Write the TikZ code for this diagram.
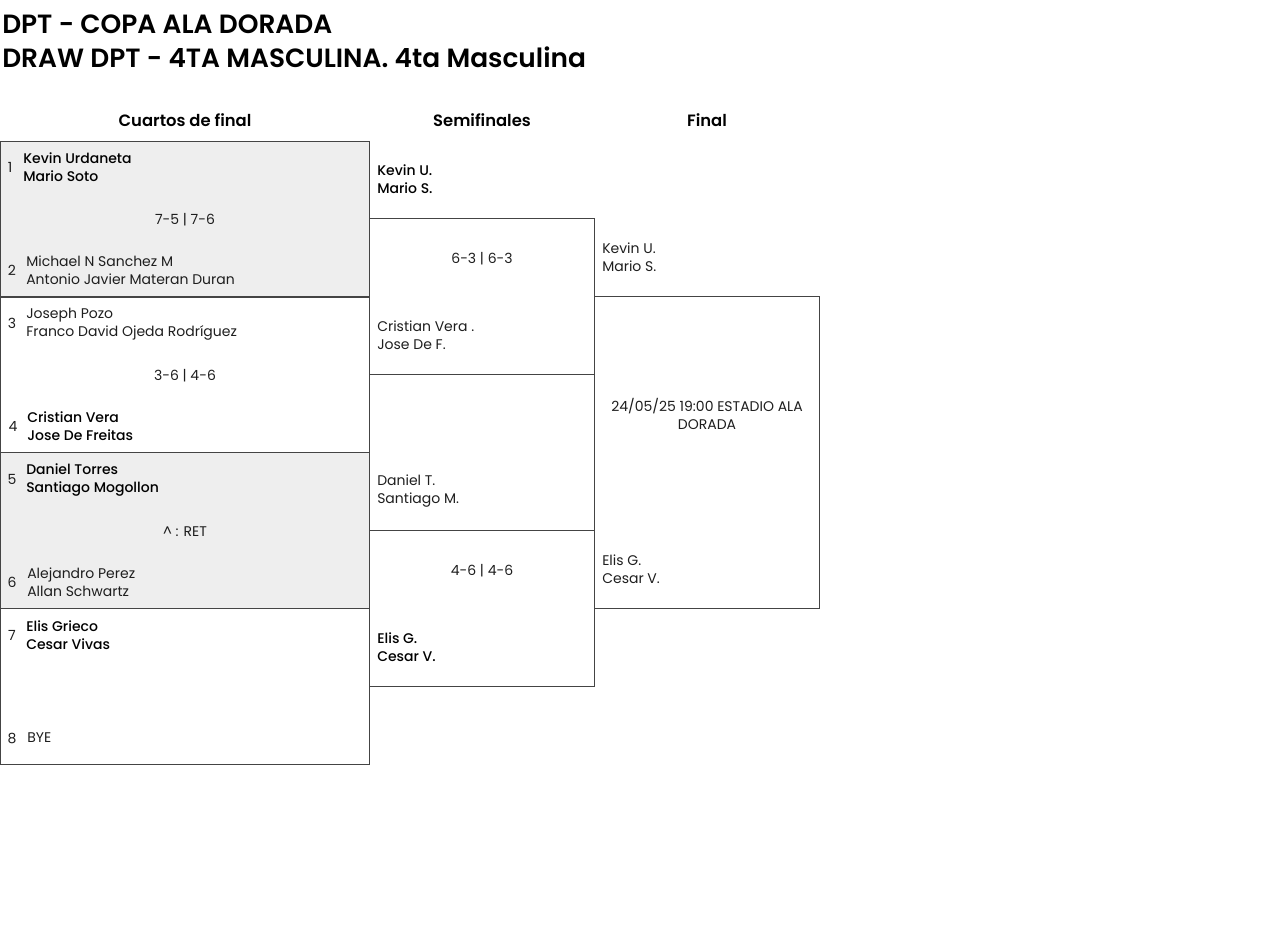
\documentclass[tikz,border=0pt]{standalone}
\usepackage{fontspec}
\setmainfont{Poppins}[BoldFont={Poppins Medium}]
\newfontfamily\headfont{Poppins SemiBold}
\definecolor{cellgray}{HTML}{EEEEEE}
\definecolor{rulegray}{HTML}{444444}
\definecolor{ink}{HTML}{1E1E1E}
\tikzset{box/.style = {draw=rulegray,line width=0.75pt}}
\tikzset{team/.style = {anchor=west,align=left,inner sep=0pt,text=ink,font=\fontsize{10.5}{13.5}\selectfont}}
\tikzset{winner/.style = {team,font=\fontsize{10.5}{13.5}\selectfont\bfseries,text=black}}
\tikzset{seed/.style = {inner sep=0pt,text=ink,font=\fontsize{10.5}{13.5}\selectfont}}
\tikzset{score/.style = {inner sep=0pt,align=center,text=ink,font=\fontsize{10.5}{13.5}\selectfont}}
\tikzset{roundhead/.style = {inner sep=0pt,text=black,font=\fontsize{12.3}{15}\headfont}}
\tikzset{titletext/.style = {anchor=west,inner sep=0pt,text=black,font=\fontsize{19.8}{24}\headfont}}

\begin{document}
\begin{tikzpicture}[x=0.75pt,y=-0.75pt]
          \useasboundingbox (0,0) rectangle (1280,949);

          \node[titletext] (t1) at (2,24) {DPT - COPA ALA DORADA};
          \node[titletext] (t2) at (2,57) {DRAW DPT - 4TA MASCULINA. 4ta Masculina};

          \node[roundhead] (r1) at (185,120) {Cuartos de final};
          \node[roundhead] (r2) at (482,120) {Semifinales};
          \node[roundhead] (r3) at (707,120) {Final};

          % cuartos
          \fill[cellgray] (0,141) rectangle (369,296);
          \fill[cellgray] (0,452) rectangle (369,608);
          \foreach \y in {141,296,452,608}
            \draw[box] (0,\y) rectangle (369,\y+156);
          % semis y final
          \draw[box] (369,218) rectangle (594,374);
          \draw[box] (369,530) rectangle (594,686);
          \draw[box] (594,296) rectangle (819,608);

          \foreach \n/\x/\y in {1/10/167,2/12/270,3/12/323,4/13/426,5/12/479,6/12/582,7/12/635,8/12/738}
            \node[seed] (s\n) at (\x,\y) {\n};

          \node[winner] (p1) at (23,167) {Kevin Urdaneta\\Mario Soto};
          \node[team] (p2) at (26,270) {Michael N Sanchez M\\Antonio Javier Materan Duran};
          \node[team] (p3) at (26,324) {Joseph Pozo\\Franco David Ojeda Rodríguez};
          \node[winner] (p4) at (27,426) {Cristian Vera\\Jose De Freitas};
          \node[winner] (p5) at (26,480) {Daniel Torres\\Santiago Mogollon};
          \node[team] (p6) at (27,582) {Alejandro Perez\\Allan Schwartz};
          \node[winner] (p7) at (26,635) {Elis Grieco\\Cesar Vivas};
          \node[team] (p8) at (27,738) {BYE};

          \node[score] (m1) at (185,220) {7-5 | 7-6};
          \node[score] (m2) at (185,376) {3-6 | 4-6};
          \node[score] (m3) at (185,532) {\textasciicircum{} : RET};

          \node[winner] (sf1) at (377,179) {Kevin U.\\Mario S.};
          \node[team] (sf2) at (377,335) {Cristian Vera .\\Jose De F.};
          \node[team] (sf3) at (377,491) {Daniel T.\\Santiago M.};
          \node[winner] (sf4) at (377,647) {Elis G.\\Cesar V.};

          \node[score] (m4) at (482,259) {6-3 | 6-3};
          \node[score] (m5) at (482,571) {4-6 | 4-6};

          \node[team] (f1) at (602,257) {Kevin U.\\Mario S.};
          \node[team] (f2) at (602,569) {Elis G.\\Cesar V.};
          \node[score] (m6) at (707,414) {24/05/25 19:00 ESTADIO ALA\\DORADA};
        \end{tikzpicture}
\end{document}
